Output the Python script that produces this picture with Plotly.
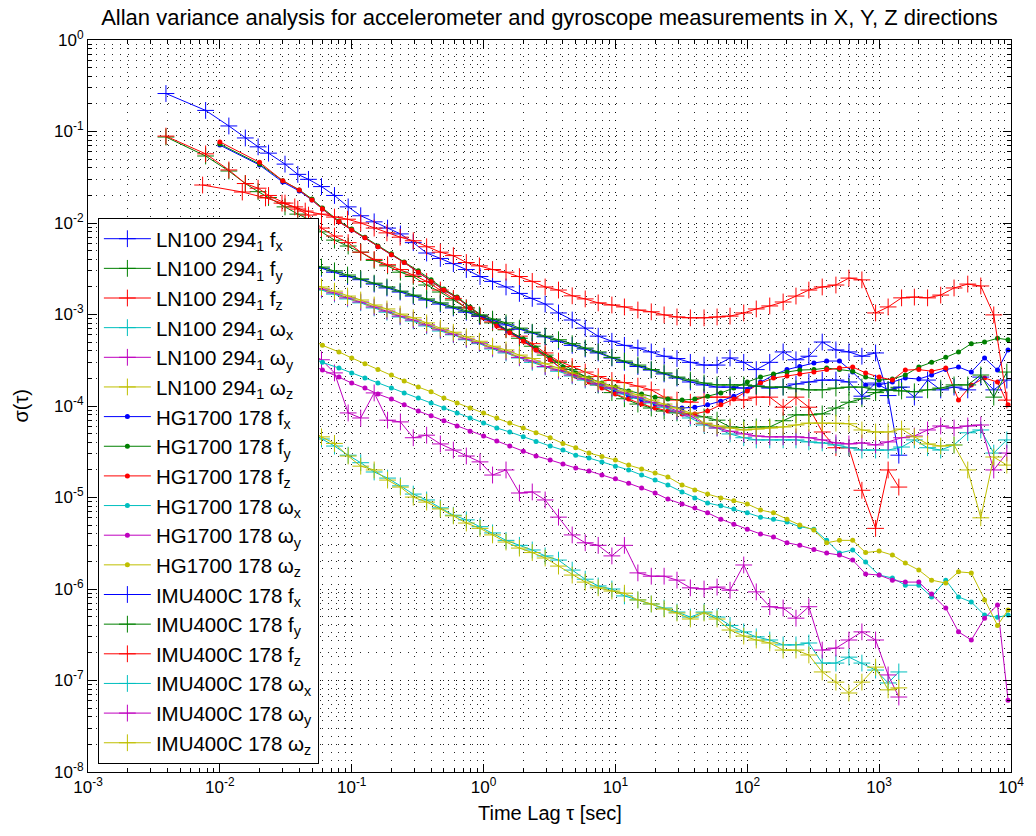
import plotly.graph_objects as go

# ---------------- data ----------------
LN100_TAU = [0.0039, 0.0078, 0.0117, 0.0156, 0.0195, 0.0234, 0.0312, 0.039, 0.047, 0.059,
             0.074, 0.094, 0.117, 0.148, 0.187, 0.234, 0.293, 0.37, 0.47, 0.59,
             0.74, 0.94, 1.17, 1.48, 1.87, 2.34, 2.93, 3.7, 4.7, 5.9,
             7.4, 9.4, 11.7, 14.8, 18.7, 23.4, 29.3, 37, 47, 59,
             74, 94, 117, 148, 187, 234, 293, 370, 470, 590,
             740, 940, 1170, 1410]

HG1700_TAU = [0.01, 0.02, 0.03, 0.04, 0.05, 0.06, 0.08, 0.1, 0.126, 0.158,
              0.2, 0.25, 0.32, 0.4, 0.5, 0.63, 0.79, 1.0, 1.26, 1.58,
              2.0, 2.5, 3.2, 4.0, 5.0, 6.3, 7.9, 10, 12.6, 15.8,
              20, 25, 32, 40, 50, 63, 79, 100, 126, 158,
              200, 250, 320, 400, 500, 630, 790, 1000, 1260, 1580,
              2000, 2500, 3200, 4000, 5000, 6300, 7900, 9500]

IMU400C_TAU = [0.0074, 0.0148, 0.0222, 0.0296, 0.037, 0.0444, 0.059, 0.074, 0.093, 0.117,
               0.148, 0.185, 0.233, 0.293, 0.37, 0.47, 0.59, 0.74, 0.93, 1.17,
               1.48, 1.87, 2.34, 2.93, 3.7, 4.7, 5.9, 7.4, 9.4, 11.7,
               14.8, 18.7, 23.4, 29.3, 37, 47, 59, 74, 94, 117,
               148, 187, 234, 293, 370, 470, 590, 740, 940, 1170,
               1480, 1850, 2330, 2930, 3700, 4700, 5900, 7400, 9300]

LN100_FX = [0.26, 0.17, 0.115, 0.085, 0.068, 0.058, 0.044, 0.034, 0.030, 0.025,
            0.020, 0.015, 0.012, 0.0103, 0.0088, 0.0076, 0.0061, 0.0047, 0.0041, 0.0036,
            0.0031, 0.0026, 0.0023, 0.0020, 0.0017, 0.0015, 0.0013, 0.00104, 8.7e-4, 7.1e-4,
            5.8e-4, 5.1e-4, 4.6e-4, 4.3e-4, 3.9e-4, 3.5e-4, 3.3e-4, 3.0e-4, 2.8e-4, 2.8e-4,
            3.35e-4, 3.0e-4, 2.5e-4, 3.0e-4, 3.9e-4, 3.2e-4, 3.5e-4, 5.0e-4, 4.1e-4, 3.9e-4,
            3.5e-4, 3.8e-4, 1.3e-4, 2.9e-5]
LN100_FY = [0.087, 0.054, 0.037, 0.027, 0.022, 0.019, 0.015, 0.0125, 0.011, 0.0080,
            0.0065, 0.0056, 0.0048, 0.0039, 0.0034, 0.0029, 0.0026, 0.0021, 0.00176, 0.00144,
            0.00118, 9.6e-4, 8.1e-4, 6.8e-4, 5.5e-4, 4.5e-4, 3.6e-4, 3.0e-4, 2.5e-4, 2.1e-4,
            1.7e-4, 1.4e-4, 1.2e-4, 1.05e-4, 9.5e-5, 8.8e-5, 8.4e-5, 8.2e-5, 7.6e-5, 7.0e-5,
            5.9e-5, 5.8e-5, 5.9e-5, 5.9e-5, 6.9e-5, 8.0e-5, 8.0e-5, 8.2e-5, 9.5e-5, 1.1e-4,
            1.2e-4, 1.4e-4, 1.5e-4, 1.6e-4]
LN100_FZ = [0.089, 0.057, 0.038, 0.027, 0.024, 0.020, 0.0165, 0.0142, 0.0122, 0.0088,
            0.0072, 0.0061, 0.0048, 0.0040, 0.0035, 0.0031, 0.0027, 0.0023, 0.00185, 0.0015,
            0.00118, 9.6e-4, 8.3e-4, 6.9e-4, 5.8e-4, 4.8e-4, 3.8e-4, 3.1e-4, 2.7e-4, 2.35e-4,
            2.1e-4, 1.9e-4, 1.8e-4, 1.65e-4, 1.5e-4, 1.25e-4, 1.16e-4, 1.1e-4, 1.25e-4, 1.25e-4,
            1.25e-4, 1.16e-4, 1.25e-4, 1.25e-4, 9.7e-5, 1.25e-4, 9.7e-5, 5.2e-5, 3.5e-5, 3.5e-5,
            1.2e-5, 4.6e-6, 2.0e-5, 1.3e-5]
LN100_WX = [5.0e-4, 2.67e-4, 1.83e-4, 1.43e-4, 1.16e-4, 9.7e-5, 7.6e-5, 6.2e-5, 5.3e-5, 4.36e-5,
            3.65e-5, 2.9e-5, 2.4e-5, 1.9e-5, 1.63e-5, 1.34e-5, 1.09e-5, 9.4e-6, 7.7e-6, 6.4e-6,
            5.7e-6, 4.8e-6, 4.1e-6, 3.4e-6, 3.0e-6, 2.67e-6, 2.3e-6, 2.07e-6, 1.61e-6, 1.28e-6,
            1.08e-6, 1.0e-6, 8.4e-7, 7.6e-7, 6.86e-7, 6.2e-7, 5.6e-7, 4.94e-7, 5.6e-7, 4.94e-7,
            4.0e-7, 3.4e-7, 3.0e-7, 2.77e-7, 2.45e-7, 2.45e-7, 2.57e-7, 1.55e-7, 1.55e-7, 1.8e-7,
            1.55e-7, 1.3e-7, 9.4e-8, 1.24e-7]
LN100_WY = [3.06e-3, 1.63e-3, 1.18e-3, 9.2e-4, 7.7e-4, 6.4e-4, 5.1e-4, 4.3e-4, 3.8e-4, 3.2e-4,
            2.3e-4, 8.4e-5, 7.4e-5, 1.39e-4, 7.0e-5, 6.7e-5, 4.5e-5, 4.8e-5, 3.85e-5, 3.3e-5,
            2.84e-5, 2.45e-5, 1.76e-5, 2.0e-5, 1.12e-5, 1.15e-5, 9.4e-6, 6.1e-6, 3.9e-6, 3.2e-6,
            3.0e-6, 2.3e-6, 3.0e-6, 1.5e-6, 1.38e-6, 1.38e-6, 1.25e-6, 1.03e-6, 1.0e-6, 1.05e-6,
            9.7e-7, 1.83e-6, 9.3e-7, 6.4e-7, 6.2e-7, 4.8e-7, 6.4e-7, 2.15e-7, 2.26e-7, 2.77e-7,
            3.4e-7, 2.77e-7, 1.15e-7, 6.6e-8]
LN100_WZ = [5.3e-4, 2.8e-4, 1.92e-4, 1.5e-4, 1.22e-4, 1.03e-4, 8.0e-5, 6.5e-5, 5.6e-5, 4.6e-5,
            3.9e-5, 2.84e-5, 2.2e-5, 2.0e-5, 1.55e-5, 1.3e-5, 1.01e-5, 8.9e-6, 7.5e-6, 6.3e-6,
            5.26e-6, 4.6e-6, 3.9e-6, 3.26e-6, 2.8e-6, 2.5e-6, 2.18e-6, 1.78e-6, 1.42e-6, 1.19e-6,
            1.03e-6, 9.5e-7, 9.0e-7, 7.6e-7, 6.86e-7, 6.05e-7, 5.47e-7, 4.7e-7, 5.47e-7, 4.7e-7,
            3.56e-7, 3.06e-7, 2.77e-7, 2.57e-7, 2.15e-7, 2.15e-7, 1.9e-7, 1.24e-7, 9.6e-8, 7.3e-8,
            9.6e-8, 1.4e-7, 7.9e-8, 8.3e-8]

HG1700_FX = [0.071, 0.043, 0.028, 0.0224, 0.0178, 0.0142, 0.0103, 0.0084, 0.0069, 0.0055,
             0.0045, 0.0037, 0.0029, 0.0023, 0.00185, 0.00152, 0.00118, 9.2e-4, 7.7e-4, 6.4e-4,
             5.3e-4, 4.1e-4, 3.2e-4, 2.47e-4, 2.13e-4, 1.88e-4, 1.65e-4, 1.46e-4, 1.28e-4, 1.16e-4,
             1.05e-4, 1.0e-4, 9.5e-5, 9.7e-5, 1.03e-4, 1.13e-4, 1.28e-4, 1.5e-4, 1.83e-4, 2.18e-4,
             2.5e-4, 2.7e-4, 2.95e-4, 3.1e-4, 3.1e-4, 2.35e-4, 1.7e-4, 1.7e-4, 1.83e-4, 2.02e-4,
             1.97e-4, 2.18e-4, 2.5e-4, 2.67e-4, 2.35e-4, 3.35e-4, 2.47e-4, 4.1e-4]
HG1700_FY = [0.073, 0.044, 0.029, 0.023, 0.0183, 0.0146, 0.0105, 0.0086, 0.0070, 0.0056,
             0.0046, 0.00375, 0.0030, 0.0024, 0.0019, 0.00155, 0.00121, 9.4e-4, 7.9e-4, 6.6e-4,
             5.4e-4, 4.3e-4, 3.35e-4, 2.67e-4, 2.3e-4, 2.02e-4, 1.78e-4, 1.61e-4, 1.46e-4, 1.35e-4,
             1.25e-4, 1.19e-4, 1.16e-4, 1.19e-4, 1.28e-4, 1.39e-4, 1.57e-4, 1.83e-4, 2.07e-4, 2.24e-4,
             2.35e-4, 2.47e-4, 2.5e-4, 2.6e-4, 2.5e-4, 2.4e-4, 2.07e-4, 1.92e-4, 1.97e-4, 2.18e-4,
             2.67e-4, 3.0e-4, 3.4e-4, 3.9e-4, 4.8e-4, 5.0e-4, 5.5e-4, 5.3e-4]
HG1700_FZ = [0.077, 0.046, 0.029, 0.023, 0.0178, 0.0142, 0.0103, 0.0084, 0.0069, 0.0055,
             0.0045, 0.0037, 0.0029, 0.0023, 0.00185, 0.00152, 0.00118, 9.2e-4, 7.5e-4, 6.3e-4,
             5.1e-4, 4.1e-4, 3.2e-4, 2.5e-4, 2.13e-4, 1.83e-4, 1.57e-4, 1.35e-4, 1.19e-4, 1.05e-4,
             9.5e-5, 8.8e-5, 8.2e-5, 8.2e-5, 8.8e-5, 1.03e-4, 1.19e-4, 1.46e-4, 1.78e-4, 2.02e-4,
             2.13e-4, 2.24e-4, 2.35e-4, 2.5e-4, 2.6e-4, 2.67e-4, 2.3e-4, 2.07e-4, 1.92e-4, 2.47e-4,
             2.5e-4, 2.4e-4, 2.6e-4, 1.16e-4, 1.7e-4, 2.02e-4, 1.83e-4, 1.03e-4]
HG1700_WX = [8.1e-4, 5.5e-4, 4.4e-4, 3.8e-4, 3.35e-4, 3.0e-4, 2.6e-4, 2.3e-4, 2.02e-4, 1.78e-4,
             1.57e-4, 1.39e-4, 1.22e-4, 1.08e-4, 9.5e-5, 8.4e-5, 7.4e-5, 6.5e-5, 5.75e-5, 5.2e-5,
             4.6e-5, 4.1e-5, 3.65e-5, 3.3e-5, 2.9e-5, 2.7e-5, 2.45e-5, 2.2e-5, 2.0e-5, 1.76e-5,
             1.55e-5, 1.37e-5, 1.15e-5, 9.9e-6, 8.7e-6, 8.1e-6, 7.5e-6, 6.8e-6, 6.1e-6, 5.8e-6,
             5.4e-6, 4.8e-6, 4.5e-6, 3.4e-6, 2.47e-6, 2.67e-6, 1.97e-6, 1.42e-6, 1.32e-6, 1.1e-6,
             1.1e-6, 8.2e-7, 1.25e-6, 8.2e-7, 7.2e-7, 5.2e-7, 4.9e-7, 5.2e-7]
HG1700_WY = [7.3e-4, 4.9e-4, 3.9e-4, 3.3e-4, 2.8e-4, 2.47e-4, 2.07e-4, 1.78e-4, 1.57e-4, 1.35e-4,
             1.19e-4, 1.03e-4, 8.8e-5, 7.8e-5, 6.9e-5, 6.05e-5, 5.3e-5, 4.7e-5, 4.14e-5, 3.65e-5,
             3.2e-5, 2.84e-5, 2.57e-5, 2.33e-5, 2.1e-5, 1.95e-5, 1.76e-5, 1.6e-5, 1.43e-5, 1.27e-5,
             1.12e-5, 9.6e-6, 8.5e-6, 7.7e-6, 6.8e-6, 5.8e-6, 5.1e-6, 4.5e-6, 4.0e-6, 3.7e-6,
             3.2e-6, 3.0e-6, 2.7e-6, 2.47e-6, 2.35e-6, 2.07e-6, 1.46e-6, 1.42e-6, 1.25e-6, 1.19e-6,
             1.19e-6, 8.8e-7, 6.2e-7, 3.4e-7, 2.77e-7, 4.8e-7, 6.7e-7, 6.1e-8]
HG1700_WZ = [1.44e-3, 9.4e-4, 7.3e-4, 6.0e-4, 5.3e-4, 4.6e-4, 3.9e-4, 3.35e-4, 2.9e-4, 2.5e-4,
             2.18e-4, 1.88e-4, 1.61e-4, 1.43e-4, 1.22e-4, 1.08e-4, 9.5e-5, 8.4e-5, 7.4e-5, 6.5e-5,
             5.75e-5, 5.1e-5, 4.5e-5, 3.9e-5, 3.5e-5, 3.06e-5, 2.8e-5, 2.57e-5, 2.26e-5, 2.05e-5,
             1.85e-5, 1.68e-5, 1.37e-5, 1.21e-5, 1.09e-5, 9.9e-6, 9.2e-6, 8.5e-6, 7.3e-6, 6.8e-6,
             5.8e-6, 5.0e-6, 4.4e-6, 3.2e-6, 3.4e-6, 3.4e-6, 2.5e-6, 2.6e-6, 2.35e-6, 1.92e-6,
             1.61e-6, 1.25e-6, 1.16e-6, 1.54e-6, 1.5e-6, 7.6e-7, 4.0e-7, 5.9e-7]

IMU400C_FX = [7.8e-3, 6.05e-3, 5.1e-3, 4.5e-3, 4.0e-3, 3.75e-3, 3.2e-3, 2.9e-3, 2.6e-3, 2.4e-3,
              2.15e-3, 1.95e-3, 1.76e-3, 1.59e-3, 1.44e-3, 1.30e-3, 1.18e-3, 1.06e-3, 9.6e-4, 8.7e-4,
              7.7e-4, 6.9e-4, 6.3e-4, 5.7e-4, 5.1e-4, 4.6e-4, 4.2e-4, 3.8e-4, 3.35e-4, 3.0e-4,
              2.7e-4, 2.47e-4, 2.24e-4, 2.02e-4, 1.83e-4, 1.70e-4, 1.61e-4, 1.61e-4, 1.57e-4, 1.65e-4,
              1.57e-4, 1.61e-4, 1.74e-4, 1.83e-4, 1.92e-4, 1.92e-4, 1.83e-4, 1.28e-4, 1.78e-4, 1.50e-4,
              1.61e-4, 1.25e-4, 1.92e-4, 1.50e-4, 1.61e-4, 1.50e-4, 2.07e-4, 1.50e-4, 1.92e-4]
IMU400C_FY = [8.2e-3, 6.2e-3, 5.2e-3, 4.6e-3, 4.1e-3, 3.8e-3, 3.3e-3, 3.0e-3, 2.7e-3, 2.45e-3,
              2.2e-3, 2.0e-3, 1.8e-3, 1.63e-3, 1.48e-3, 1.34e-3, 1.21e-3, 1.09e-3, 9.9e-4, 8.9e-4,
              8.1e-4, 7.1e-4, 6.4e-4, 5.8e-4, 5.3e-4, 4.8e-4, 4.3e-4, 3.9e-4, 3.4e-4, 3.1e-4,
              2.8e-4, 2.5e-4, 2.3e-4, 2.07e-4, 1.92e-4, 1.78e-4, 1.70e-4, 1.70e-4, 1.70e-4, 1.65e-4,
              1.61e-4, 1.61e-4, 1.54e-4, 1.50e-4, 1.50e-4, 1.57e-4, 1.61e-4, 1.61e-4, 1.50e-4, 1.50e-4,
              1.46e-4, 1.43e-4, 1.50e-4, 1.57e-4, 1.70e-4, 1.70e-4, 2.18e-4, 1.25e-4, 2.35e-4]
IMU400C_FZ = [0.026, 0.0218, 0.0188, 0.0165, 0.0150, 0.0135, 0.0125, 0.0116, 0.0110, 0.0100,
              0.0088, 0.0078, 0.0070, 0.0064, 0.0055, 0.0048, 0.0044, 0.0037, 0.0034, 0.0031,
              0.0029, 0.0026, 0.0023, 0.0020, 0.00185, 0.0016, 0.00148, 0.00134, 0.00127, 0.00121,
              0.00112, 0.00107, 9.9e-4, 9.4e-4, 9.2e-4, 9.2e-4, 9.4e-4, 9.6e-4, 0.00104, 0.00115,
              0.00124, 0.00137, 0.00159, 0.00185, 0.0020, 0.0021, 0.0025, 0.00239, 0.00104, 0.00121,
              0.00152, 0.00155, 0.00152, 0.00163, 0.00195, 0.00215, 0.00205, 9.9e-4, 1.16e-4]
IMU400C_WX = [5.2e-3, 3.65e-3, 3.0e-3, 2.6e-3, 2.3e-3, 2.1e-3, 1.85e-3, 1.67e-3, 1.48e-3, 1.34e-3,
              1.18e-3, 1.06e-3, 9.4e-4, 8.5e-4, 7.5e-4, 6.6e-4, 6.0e-4, 5.3e-4, 4.8e-4, 4.2e-4,
              3.8e-4, 3.35e-4, 3.0e-4, 2.67e-4, 2.4e-4, 2.13e-4, 1.92e-4, 1.70e-4, 1.54e-4, 1.35e-4,
              1.22e-4, 1.08e-4, 9.7e-5, 8.6e-5, 7.4e-5, 6.2e-5, 5.75e-5, 4.95e-5, 4.5e-5, 4.26e-5,
              4.26e-5, 4.26e-5, 4.26e-5, 4.05e-5, 3.95e-5, 3.75e-5, 3.5e-5, 3.3e-5, 3.3e-5, 3.3e-5,
              3.56e-5, 4.26e-5, 3.5e-5, 3.3e-5, 3.75e-5, 5.1e-5, 5.47e-5, 3.06e-5, 4.26e-5]
IMU400C_WY = [5.3e-3, 3.75e-3, 3.06e-3, 2.64e-3, 2.4e-3, 2.15e-3, 1.9e-3, 1.72e-3, 1.52e-3, 1.37e-3,
              1.21e-3, 1.09e-3, 9.6e-4, 8.7e-4, 7.7e-4, 6.8e-4, 6.1e-4, 5.4e-4, 4.9e-4, 4.3e-4,
              3.9e-4, 3.4e-4, 3.1e-4, 2.7e-4, 2.47e-4, 2.18e-4, 1.97e-4, 1.74e-4, 1.57e-4, 1.39e-4,
              1.25e-4, 1.1e-4, 1.0e-4, 8.8e-5, 7.8e-5, 6.4e-5, 5.75e-5, 5.3e-5, 4.95e-5, 4.7e-5,
              4.6e-5, 4.6e-5, 4.6e-5, 4.5e-5, 4.26e-5, 3.95e-5, 3.85e-5, 3.95e-5, 3.75e-5, 4.05e-5,
              4.5e-5, 4.7e-5, 5.47e-5, 6.05e-5, 5.75e-5, 6.05e-5, 6.2e-5, 2.0e-5, 3.06e-5]
IMU400C_WZ = [5.6e-3, 3.9e-3, 3.2e-3, 2.77e-3, 2.5e-3, 2.26e-3, 2.0e-3, 1.8e-3, 1.59e-3, 1.44e-3,
              1.27e-3, 1.15e-3, 1.01e-3, 9.2e-4, 8.1e-4, 7.1e-4, 6.4e-4, 5.7e-4, 5.1e-4, 4.5e-4,
              4.1e-4, 3.6e-4, 3.3e-4, 2.9e-4, 2.6e-4, 2.3e-4, 2.07e-4, 1.83e-4, 1.65e-4, 1.46e-4,
              1.32e-4, 1.16e-4, 1.05e-4, 9.5e-5, 8.4e-5, 6.5e-5, 6.05e-5, 5.75e-5, 5.47e-5, 5.6e-5,
              5.75e-5, 5.9e-5, 6.2e-5, 6.5e-5, 6.5e-5, 6.5e-5, 6.4e-5, 5.47e-5, 5.2e-5, 5.2e-5,
              5.6e-5, 4.6e-5, 3.85e-5, 3.65e-5, 3.75e-5, 2.0e-5, 6.0e-6, 2.77e-5, 2.26e-5]

SERIES_NAMES = [
    "LN100 294<sub>1</sub> f<sub>x</sub>", "LN100 294<sub>1</sub> f<sub>y</sub>",
    "LN100 294<sub>1</sub> f<sub>z</sub>", "LN100 294<sub>1</sub> ω<sub>x</sub>",
    "LN100 294<sub>1</sub> ω<sub>y</sub>", "LN100 294<sub>1</sub> ω<sub>z</sub>",
    "HG1700 178 f<sub>x</sub>", "HG1700 178 f<sub>y</sub>", "HG1700 178 f<sub>z</sub>",
    "HG1700 178 ω<sub>x</sub>", "HG1700 178 ω<sub>y</sub>", "HG1700 178 ω<sub>z</sub>",
    "IMU400C 178 f<sub>x</sub>", "IMU400C 178 f<sub>y</sub>", "IMU400C 178 f<sub>z</sub>",
    "IMU400C 178 ω<sub>x</sub>", "IMU400C 178 ω<sub>y</sub>", "IMU400C 178 ω<sub>z</sub>",
]

X_TICKVALS = [1e-3, 1e-2, 1e-1, 1e0, 1e1, 1e2, 1e3, 1e4]
X_TICKTEXT = ["10<sup>-3</sup>", "10<sup>-2</sup>", "10<sup>-1</sup>", "10<sup>0</sup>",
              "10<sup>1</sup>", "10<sup>2</sup>", "10<sup>3</sup>", "10<sup>4</sup>"]
Y_TICKVALS = [1e-8, 1e-7, 1e-6, 1e-5, 1e-4, 1e-3, 1e-2, 1e-1, 1e0]
Y_TICKTEXT = ["10<sup>-8</sup>", "10<sup>-7</sup>", "10<sup>-6</sup>", "10<sup>-5</sup>",
              "10<sup>-4</sup>", "10<sup>-3</sup>", "10<sup>-2</sup>", "10<sup>-1</sup>",
              "10<sup>0</sup>"]

# ---------------- styling ----------------
LINE_COLORS = ["rgb(0,0,255)", "rgb(0,128,0)", "rgb(255,0,0)",
               "rgb(0,191,191)", "rgb(191,0,191)", "rgb(191,191,0)"]
FONT = "Liberation Sans, Arial, Helvetica, sans-serif"

groups = [
    (LN100_TAU, [LN100_FX, LN100_FY, LN100_FZ, LN100_WX, LN100_WY, LN100_WZ], "plus"),
    (HG1700_TAU, [HG1700_FX, HG1700_FY, HG1700_FZ, HG1700_WX, HG1700_WY, HG1700_WZ], "dot"),
    (IMU400C_TAU, [IMU400C_FX, IMU400C_FY, IMU400C_FZ, IMU400C_WX, IMU400C_WY, IMU400C_WZ], "plus"),
]

fig = go.Figure()
k = 0
for tau, ys, style in groups:
    for i, vals in enumerate(ys):
        if len(vals) != len(tau):
            raise ValueError(f"length mismatch in {SERIES_NAMES[k]}: {len(vals)} vs {len(tau)}")
        col = LINE_COLORS[i]
        if style == "plus":
            marker = dict(symbol="cross-thin", size=12, color=col, line=dict(color=col, width=1))
        else:
            marker = dict(symbol="circle", size=5, color=col, line=dict(width=0))
        fig.add_trace(go.Scatter(x=tau, y=vals, mode="lines+markers", name=SERIES_NAMES[k],
                                 line=dict(color=col, width=1), marker=marker))
        k += 1

GRID = dict(showgrid=True, gridcolor="rgba(0,0,0,0.85)", gridwidth=1, griddash="1px,7px")
MINOR = dict(ticks="inside", ticklen=4, tickcolor="black", tickwidth=1,
             showgrid=True, gridcolor="rgba(0,0,0,0.85)", gridwidth=1, griddash="1px,7px")
AX = dict(type="log", showline=True, linecolor="black",
          linewidth=1, mirror="allticks", ticks="inside", ticklen=8, tickcolor="black",
          tickfont=dict(size=17, family=FONT, color="black"), zeroline=False, **GRID)

fig.update_xaxes(range=[-3, 4], tickmode="array", tickvals=X_TICKVALS, ticktext=X_TICKTEXT,
                 minor=dict(dtick="D1", **MINOR), **AX)
fig.update_yaxes(range=[-8, 0], tickmode="array", tickvals=Y_TICKVALS, ticktext=Y_TICKTEXT,
                 minor=dict(dtick="D1", **MINOR), **AX)

fig.update_layout(
    width=1036, height=836,
    margin=dict(l=88, r=16, t=40, b=64),
    paper_bgcolor="white", plot_bgcolor="white",
    font=dict(family=FONT, color="black"),
    title=dict(text="Allan variance analysis for accelerometer and gyroscope measurements in X, Y, Z directions",
               x=0.5, xref="paper", xanchor="center", y=1 - 17 / 836, yref="container",
               yanchor="middle", font=dict(size=22, family=FONT, color="black")),
    showlegend=True,
    legend=dict(x=0.0107, y=0.757, xanchor="left", yanchor="top", bgcolor="white",
                bordercolor="black", borderwidth=1, font=dict(size=20.5, family=FONT, color="black"),
                tracegroupgap=0, itemwidth=47),
    annotations=[
        dict(text="Time Lag τ [sec]", x=0.5, y=-0.056, xref="paper", yref="paper",
             showarrow=False, font=dict(size=20, family=FONT, color="black"), yanchor="middle"),
        dict(text="σ(τ)", x=-0.073, y=0.5, xref="paper", yref="paper", textangle=-90,
             showarrow=False, font=dict(size=20, family=FONT, color="black"), xanchor="center"),
    ],
)

fig.write_html("out.html")
